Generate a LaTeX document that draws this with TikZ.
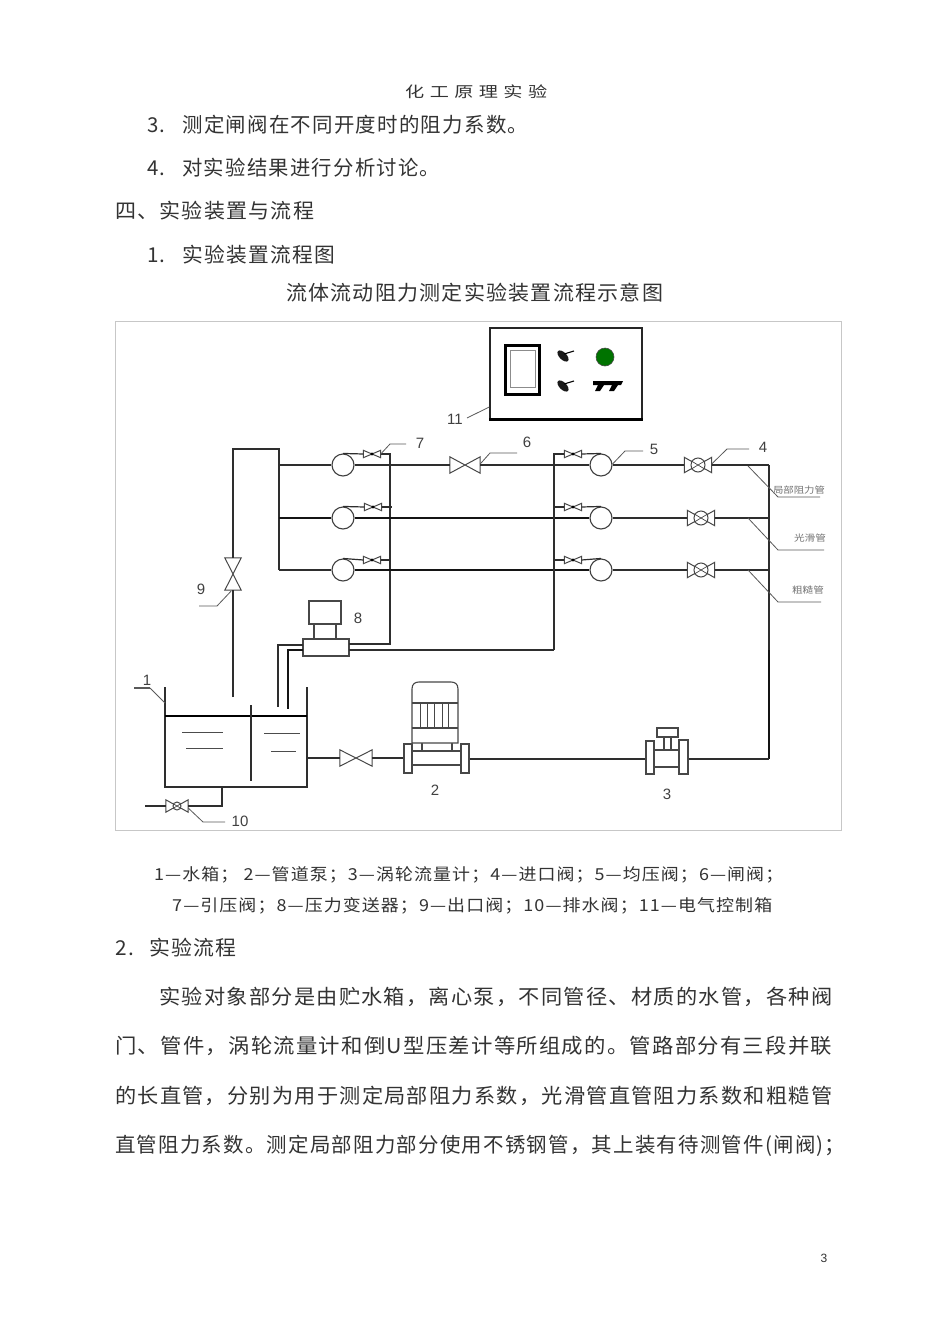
\documentclass[tikz,border=0pt]{standalone}
\usepackage{fontspec}
\usepackage{graphicx}
\setmainfont{Liberation Sans}
\newfontfamily\cjkbody[LetterSpace=6]{Noto Sans CJK SC}
\newfontfamily\cjkplain{Noto Sans CJK SC}
\newcommand{\tl}[6]{\node[inner sep=0pt,anchor=west,text=black!80,yshift=-.2pt] (#1) at (#2,#3) {\resizebox{#4pt}{\height}{\fontsize{#5}{#5}\cjkbody #6}};}
\newcommand{\valveH}[5]{\node[inner sep=0pt,minimum width=#4pt,minimum height=#5pt] (#1) at (#2,#3) {};
 \draw[valve] (#1.north west) -- (#1.south east) -- (#1.north east) -- (#1.south west) -- cycle;}
\newcommand{\valveC}[6]{\valveH{#1}{#2}{#3}{#4}{#5}
 \draw[valve,fill=white] (#1.center) circle (#6pt);
 \draw[valve,line width=.7pt] (#1.center) ++(-#6pt,-#6pt*.6) -- ++(2*#6pt,1.2*#6pt) (#1.center) ++(-#6pt,#6pt*.6) -- ++(2*#6pt,-1.2*#6pt);}
\newcommand{\valveS}[3]{\valveH{#1}{#2}{#3}{17}{7}
 \fill[black] (#1.center) circle (1.6pt);}
\newcommand{\lab}[4]{\node[lbl] (#1) at (#2,#3) {#4};}
\newcommand{\smalllab}[5]{\node[inner sep=0pt,text=black!55] (#1) at (#2,#3) {\resizebox{#4pt}{\height}{\fontsize{9}{9}\cjkplain #5}};}
\tikzset{
 pipe/.style={draw=black!82,line width=1.2pt,line join=miter},
 thickpipe/.style={draw=black!92,line width=1.8pt},
 valve/.style={draw=black!72,line width=1pt,line join=miter},
 leader/.style={draw=black!65,line width=.8pt},
 equip/.style={draw=black!72,line width=1.1pt,fill=white,inner sep=0pt},
 lbl/.style={inner sep=0pt,text=black!75,font=\fontsize{15}{15}\selectfont},
 gauge/.style={circle,draw=black!75,line width=1.1pt,fill=white,inner sep=0pt,minimum size=22pt},
}
\begin{document}
\begin{tikzpicture}[x=1pt,y=-1pt]
\useasboundingbox (0,0) rectangle (950,1344);
\fill[white] (0,0) rectangle (950,1344);
% ---- page text
\tl{hd}{405}{92}{142}{15}{化 工 原 理 实 验}
\tl{l1}{147}{124}{381}{20.5}{3.\hspace{17pt}测定闸阀在不同开度时的阻力系数。}
\tl{l2}{147}{167}{293}{20.5}{4.\hspace{17pt}对实验结果进行分析讨论。}
\tl{l3}{115}{210}{199}{20.5}{四、实验装置与流程}
\tl{l4}{147}{254}{188}{20.5}{1.\hspace{17pt}实验装置流程图}
\tl{ttl}{286}{292}{377}{20.5}{流体流动阻力测定实验装置流程示意图}
\tl{c1}{154}{875}{629}{16.5}{1—水箱； 2—管道泵；3—涡轮流量计；4—进口阀；5—均压阀；6—闸阀；}
\tl{c2}{172}{906}{600}{16.5}{7—引压阀；8—压力变送器；9—出口阀；10—排水阀；11—电气控制箱}
\tl{l5}{115}{947}{121}{20.5}{2.\hspace{15pt}实验流程}
\tl{b1}{159}{997}{673}{20.5}{实验对象部分是由贮水箱，离心泵，不同管径、材质的水管，各种阀}
\tl{b2}{115}{1046}{717}{20.5}{门、管件，涡轮流量计和倒U型压差计等所组成的。管路部分有三段并联}
\tl{b3}{115}{1096}{717}{20.5}{的长直管，分别为用于测定局部阻力系数，光滑管直管阻力系数和粗糙管}
\tl{b4}{115}{1146}{730}{20.5}{直管阻力系数。测定局部阻力部分使用不锈钢管，其上装有待测管件(闸阀)；}
\node[inner sep=0pt,font=\fontsize{12}{12}\selectfont,text=black!80] (pg) at (824,1258) {3};
% ---- frame
\draw[black!22,line width=1pt] (115,321) rectangle (841,830);
% ---- control panel
\node[draw=black!85,line width=1.5pt,fill=white,inner sep=0pt,minimum width=152pt,minimum height=91pt] (panel) at (566,373.5) {};
\draw[black,line width=2.6pt] (panel.south west) -- (panel.south east);
\node[draw=black,line width=3.4pt,inner sep=0pt,minimum width=34pt,minimum height=49pt] (screen) at (522.5,370) {};
\node[draw=black!45,line width=1pt,inner sep=0pt,minimum width=25pt,minimum height=37pt] (screenin) at (522.5,369) {};
\node[circle,fill=green!45!black,draw=black!70,line width=.6pt,inner sep=0pt,minimum size=18pt] (lamp) at (605,357) {};
\foreach \n/\yy in {swa/356,swb/386}{
 \coordinate (\n) at (563,\yy);
 \fill[black!90,rotate around={-45:(\n)}] (\n) ellipse (7pt and 3.6pt);
 \draw[black,line width=1.1pt] (\n) ++(1,-2) -- ++(10,-3);
}
\foreach \dx in {0,14}{
 \fill[black,xshift=\dx pt] (593,381) -- (609,381) -- (607,385) -- (604,385) -- (600,391) -- (595,391) -- (598,385) -- (593,385) -- cycle;
}
\lab{n11}{455}{419}{11}
\coordinate (p11) at (467,418);
\draw[leader] (p11) -- (panel.south west |- 0,407);
% ---- gauges and valves
\foreach \n/\x/\y in {ga/343/465,gb/343/518,gc/343/570,ha/601/465,hb/601/518,hc/601/570}
 \node[gauge] (\n) at (\x,\y) {};
\valveH{v6}{465}{465}{30}{16}
\valveC{v4a}{698}{465}{27}{15}{7}
\valveC{v4b}{701}{518}{27}{15}{7}
\valveC{v4c}{701}{570}{27}{15}{7}
\valveS{sga}{372}{454}
\valveS{sgb}{373}{507}
\valveS{sgc}{372}{560}
\valveS{sha}{573}{454}
\valveS{shb}{573}{507}
\valveS{shc}{573}{560}
\node[inner sep=0pt,minimum width=16pt,minimum height=32pt] (v9) at (233,574) {};
\draw[valve] (v9.north west) -- (v9.north east) -- (v9.south west) -- (v9.south east) -- cycle;
\valveH{vout}{356}{758}{32}{16}
\valveC{v10}{177}{806}{22}{12}{4}
% ---- junctions
\coordinate (la) at (279,465); \coordinate (lb) at (279,518); \coordinate (lc) at (279,570);
\coordinate (ltop) at (279,449); \coordinate (l9top) at (233,449); \coordinate (l9end) at (233,697);
\coordinate (ra) at (769,465); \coordinate (rb) at (769,518); \coordinate (rc) at (769,570);
\coordinate (rmid) at (769,650); \coordinate (rbot) at (769,759);
\coordinate (ja) at (554,454); \coordinate (jb) at (554,507); \coordinate (jc) at (554,560); \coordinate (jd) at (554,650);
\coordinate (ka) at (390,454); \coordinate (kb) at (392,507); \coordinate (kc) at (390,560); \coordinate (kd) at (390,644);
% ---- transmitter 8
\node[equip,minimum width=32pt,minimum height=23pt] (tx) at (325,612.5) {};
\node[equip,minimum width=46pt,minimum height=17pt] (txb) at (326,647.5) {};
\draw[equip,fill=none] (314,624) -- (314,639) (336,624) -- (336,639);
\coordinate (txa) at (303,645); \coordinate (txc) at (303,650);
\coordinate (txd) at (349,644); \coordinate (txe) at (349,650);
\draw[pipe] (txa) -- (278,645) -- (278,707);
\draw[thickpipe] (txc) -- (288,650) -- (288,709);
\draw[pipe] (txd) -- (kd) -- (ka) -- (sga.east);
\draw[pipe] (txe) -- (jd);
% ---- main pipes
\draw[pipe] (l9end) -- (v9.south);
\draw[pipe] (v9.north) -- (l9top) -- (ltop) -- (lc);
\draw[pipe] (la) -- (ga.west);
\draw[thickpipe,line width=1.5pt] (lb) -- (gb.west);
\draw[pipe] (lc) -- (gc.west);
\draw[pipe] (ga.east) -- (v6.west);
\draw[pipe] (v6.east) -- (ha.west);
\draw[thickpipe,line width=1.5pt] (gb.east) -- (hb.west);
\draw[thickpipe,line width=1.5pt] (gc.east) -- (hc.west);
\draw[pipe] (ha.east) -- (v4a.west); \draw[pipe] (v4a.east) -- (ra);
\draw[pipe] (hb.east) -- (v4b.west); \draw[pipe] (v4b.east) -- (rb);
\draw[pipe] (hc.east) -- (v4c.west); \draw[pipe] (v4c.east) -- (rc);
\draw[pipe] (ra) -- (rmid);
\draw[thickpipe] (rmid) -- (rbot);
\draw[pipe] (jd) -- (ja) -- (sha.west);
\draw[pipe] (sha.east) -- (ha.north);
\draw[pipe] (jb) -- (shb.west); \draw[pipe] (shb.east) -- (hb.north);
\draw[pipe] (jc) -- (shc.west); \draw[pipe] (shc.east) -- (hc.north);
\draw[pipe] (ga.north) -- (sga.west);
\draw[pipe] (gb.north) -- (sgb.west); \draw[pipe] (sgb.east) -- (kb);
\draw[pipe] (gc.north) -- (sgc.west); \draw[pipe] (sgc.east) -- (kc);
% ---- tank
\coordinate (tl) at (165,687); \coordinate (tr) at (307,687);
\coordinate (tbl) at (165,787); \coordinate (tbr) at (307,787);
\draw[pipe] (tl) -- (tbl) -- (tbr) -- (tr);
\draw[black,line width=1.7pt] (165,716) -- (307,716);
\draw[pipe] (251,705) -- (251,781);
\draw[black!70,line width=1pt] (182,732) -- (223,732) (186,748) -- (223,748) (264,733) -- (300,733) (271,751) -- (296,751);
% ---- pump 2
\node[equip,minimum width=8pt,minimum height=29pt] (pfl) at (408,758.5) {};
\node[equip,minimum width=8pt,minimum height=29pt] (pfr) at (465,758.5) {};
\node[equip,minimum width=49pt,minimum height=14pt] (pbody) at (436.5,758) {};
\draw[equip,fill=none] (422,743) -- (422,751) (452,743) -- (452,751);
\draw[equip] (412,743) -- (412,689) .. controls (412,684) and (415,682) .. (419,682) -- (451,682) .. controls (455,682) and (458,684) .. (458,689) -- (458,743) -- cycle;
\draw[equip,fill=none] (412,703) -- (458,703) (412,728) -- (458,728);
\foreach \x in {420,427,434,442,448} \draw[black!72,line width=.9pt] (\x,703) -- (\x,728);
\coordinate (tout) at (307,758);
\draw[pipe] (tout) -- (vout.west);
\draw[pipe] (vout.east) -- (pfl.west |- vout.east);
% ---- flow meter 3
\node[equip,minimum width=8pt,minimum height=33pt] (ffl) at (650,757.5) {};
\node[equip,minimum width=9pt,minimum height=34pt] (ffr) at (683.5,757) {};
\node[equip,minimum width=25pt,minimum height=17pt] (fbody) at (666.5,758.5) {};
\node[equip,minimum width=21pt,minimum height=9pt] (fhead) at (667.5,732.5) {};
\draw[equip,fill=none] (664,737) -- (664,750) (671,737) -- (671,750);
\draw[pipe] (pfr.east |- rbot) -- (ffl.west |- rbot);
\draw[pipe] (ffr.east |- rbot) -- (rbot);
% ---- drain
\coordinate (dtop) at (222,787); \coordinate (dcor) at (222,806); \coordinate (dend) at (145,806);
\draw[pipe] (dtop) -- (dcor) -- (v10.east);
\draw[pipe] (v10.west) -- (dend);
% ---- leaders
\draw[leader] (v6.east) ++(0,-1) -- (490,453) -- (517,453);
\draw[leader] (ha.east) ++(0,-1) -- (625,451) -- (643,451);
\draw[leader] (v4a.east) ++(0,-1) -- (727,449) -- (749,449);
\draw[leader] (sga.east) -- (390,444) -- (406,444);
\draw[leader] (v9.south) ++(-2,1) -- (217,606) -- (199,606);
\draw[leader] (v10.east) ++(0,2) -- (203,822) -- (225,822);
\draw[leader] (tl |- 0,703) -- (150,688);
\draw[leader,line width=1.3pt] (150,688) -- (134,688);
\draw[leader] (748,466) -- (778,497) -- (820,497);
\draw[leader] (748,518) -- (778,550) -- (824,550);
\draw[leader] (748,570) -- (778,602) -- (821,602);
% ---- labels
\lab{n1}{147}{680}{1}
\lab{n2}{435}{790}{2}
\lab{n3}{667}{794}{3}
\lab{n4}{763}{447}{4}
\lab{n5}{654}{449}{5}
\lab{n6}{527}{442}{6}
\lab{n7}{420}{443}{7}
\lab{n8}{358}{618}{8}
\lab{n9}{201}{589}{9}
\lab{n10}{240}{821}{10}
\smalllab{ta}{799}{490}{52}{局部阻力管}
\smalllab{tb}{810}{538}{32}{光滑管}
\smalllab{tc}{808}{590}{32}{粗糙管}
\end{tikzpicture}
\end{document}
